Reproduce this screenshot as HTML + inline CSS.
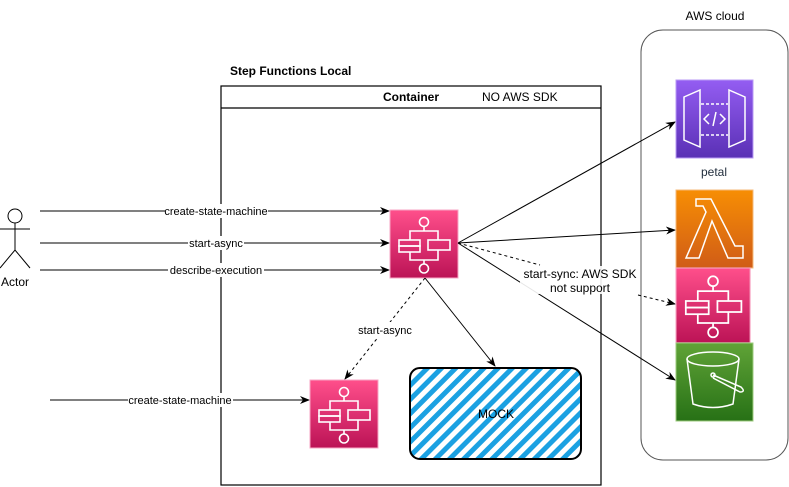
<!DOCTYPE html>
<html><head><meta charset="utf-8"><style>
html,body{margin:0;padding:0;background:#fff;}
svg{display:block;font-family:"Liberation Sans",Helvetica,Arial,sans-serif;}
</style></head><body>
<svg width="789" height="487" viewBox="0 0 789 487" xmlns="http://www.w3.org/2000/svg">
<defs>
<linearGradient id="gp" x1="0" y1="0" x2="0" y2="1"><stop offset="0" stop-color="#ff4f8b"/><stop offset="1" stop-color="#bc1356"/></linearGradient>
<linearGradient id="go" x1="0" y1="0" x2="0" y2="1"><stop offset="0" stop-color="#f78e04"/><stop offset="1" stop-color="#d05c17"/></linearGradient>
<linearGradient id="gg" x1="0" y1="0" x2="0" y2="1"><stop offset="0" stop-color="#60a337"/><stop offset="1" stop-color="#277116"/></linearGradient>
<linearGradient id="gv" x1="0" y1="0" x2="0" y2="1"><stop offset="0" stop-color="#945df2"/><stop offset="1" stop-color="#5a30b5"/></linearGradient>
<pattern id="hatch" width="10" height="10" patternUnits="userSpaceOnUse" patternTransform="rotate(45)">
<rect width="10" height="10" fill="#fff"/><rect width="5" height="10" fill="#1ba1e2"/></pattern>
<marker id="ar" markerWidth="10" markerHeight="10" refX="9" refY="5" orient="auto" markerUnits="userSpaceOnUse"><path d="M0,1 L10,5 L0,9 L3,5 z" fill="#000"/></marker>
<g id="sf">
<rect x="0" y="0" width="68" height="68" fill="url(#gp)" stroke="#f7a6c4" stroke-width="1"/>
<g fill="none" stroke="#fff" stroke-width="1.6">
<circle cx="34" cy="12" r="4.5"/><line x1="34" y1="16.5" x2="34" y2="21"/>
<path d="M20,30 V21 H48 V30"/>
<rect x="9" y="30" width="21" height="6"/><rect x="9" y="36" width="21" height="6"/>
<rect x="38" y="30" width="22" height="10"/>
<path d="M20,42 V50 H48 V40"/>
<line x1="34" y1="50" x2="34" y2="54"/><circle cx="34" cy="58.5" r="4.5"/>
</g></g>
</defs>

<!-- titles -->
<text x="230" y="75" font-size="12" font-weight="bold">Step Functions Local</text>
<text x="715" y="20" font-size="12" text-anchor="middle">AWS cloud</text>

<!-- container -->
<rect x="221" y="86" width="380" height="399" fill="none" stroke="#000" stroke-width="1.2"/>
<line x1="221" y1="108" x2="601" y2="108" stroke="#000" stroke-width="1.2"/>
<text x="411" y="101" font-size="12" font-weight="bold" text-anchor="middle">Container</text>
<text x="482" y="101" font-size="12">NO AWS SDK</text>

<!-- AWS cloud -->
<rect x="641" y="30" width="147" height="430" rx="22" fill="none" stroke="#555" stroke-width="1"/>

<!-- actor -->
<g fill="none" stroke="#000" stroke-width="1">
<circle cx="15" cy="216" r="7"/><line x1="15" y1="223" x2="15" y2="250"/>
<line x1="0" y1="229" x2="30" y2="229"/>
<path d="M0,268 L15,250 L30,268"/>
</g>
<text x="15" y="286" font-size="12" text-anchor="middle">Actor</text>

<!-- actor arrows -->
<g stroke="#000" stroke-width="1" marker-end="url(#ar)">
<line x1="40" y1="211" x2="389" y2="211"/>
<line x1="40" y1="243" x2="389" y2="243"/>
<line x1="40" y1="270" x2="389" y2="270"/>
<line x1="50" y1="400" x2="309" y2="400"/>
</g>
<g font-size="11" text-anchor="middle">
<rect x="165" y="204" width="103" height="14" fill="#fff"/><text x="216" y="215">create-state-machine</text>
<rect x="188" y="236" width="56" height="14" fill="#fff"/><text x="216" y="247">start-async</text>
<rect x="168" y="263" width="96" height="14" fill="#fff"/><text x="216" y="274">describe-execution</text>
<rect x="128" y="393" width="105" height="14" fill="#fff"/><text x="180" y="404">create-state-machine</text>
</g>

<!-- SF icons -->
<use href="#sf" x="390" y="210"/>
<use href="#sf" x="310" y="380"/>

<!-- internal arrows -->
<line x1="425" y1="278" x2="345" y2="379" stroke="#000" stroke-dasharray="3,3" marker-end="url(#ar)"/>
<rect x="354" y="322" width="62" height="15" fill="#fff"/>
<text x="385" y="334" font-size="11" text-anchor="middle">start-async</text>
<line x1="425" y1="278" x2="495" y2="366" stroke="#000" marker-end="url(#ar)"/>

<!-- MOCK -->
<rect x="410" y="368" width="171" height="91" rx="10" fill="url(#hatch)" stroke="#000" stroke-width="2"/>
<text x="496" y="418" font-size="12" text-anchor="middle">MOCK</text>

<!-- outgoing arrows -->
<g stroke="#000" stroke-width="1" fill="none">
<line x1="458" y1="243" x2="675" y2="122" marker-end="url(#ar)"/>
<line x1="458" y1="243" x2="675" y2="230" marker-end="url(#ar)"/>
<line x1="458" y1="243" x2="675" y2="380" marker-end="url(#ar)"/>
<path d="M458,243 L540,265" stroke-dasharray="3,3"/>
<path d="M638,295 L675,304" stroke-dasharray="3,3" marker-end="url(#ar)"/>
</g>
<rect x="520" y="266" width="120" height="28" fill="#fff" opacity="0.9"/>
<text x="580" y="278" font-size="12" text-anchor="middle">start-sync: AWS SDK</text>
<text x="580" y="292" font-size="12" text-anchor="middle">not support</text>

<!-- API gateway -->
<rect x="676" y="80" width="77" height="78" fill="url(#gv)" stroke="#b89af5" stroke-width="1"/>
<g fill="none" stroke="#fff" stroke-width="1.5">
<path d="M684,97 L700,90 V147 L684,140 Z"/>
<path d="M745,97 L729,90 V147 L745,140 Z"/>
<line x1="701" y1="104" x2="728" y2="104" stroke-dasharray="3,2"/>
<line x1="701" y1="135" x2="728" y2="135" stroke-dasharray="3,2"/>
<path d="M709,114 L704,119 L709,124 M720,114 L725,119 L720,124 M716,112 L713,126"/>
</g>
<text x="714" y="176" font-size="12" fill="#232f3e" text-anchor="middle">petal</text>

<!-- Lambda -->
<rect x="676" y="190" width="77" height="78" fill="url(#go)" stroke="#f5b97a" stroke-width="1"/>
<path d="M696,199 H711 L735,246 H743 V258 H728 L712,221 L699,258 H686 L706,212 L703,206 H696 Z" fill="none" stroke="#fff" stroke-width="1.5"/>

<!-- SF right -->
<g transform="translate(676,268) scale(1.09,1.1)"><use href="#sf"/></g>

<!-- S3 -->
<rect x="676" y="343" width="77" height="78" fill="url(#gg)" stroke="#9ccb7e" stroke-width="1"/>
<g fill="none" stroke="#fff" stroke-width="1.5">
<ellipse cx="713" cy="359" rx="26" ry="7"/>
<path d="M687,359 L693,404 Q713,411 733,404 L739,359"/>
<circle cx="713" cy="375" r="2"/>
<path d="M713,375 L741,387 Q746,392 740,392 L713,378"/>
</g>
</svg>
</body></html>
